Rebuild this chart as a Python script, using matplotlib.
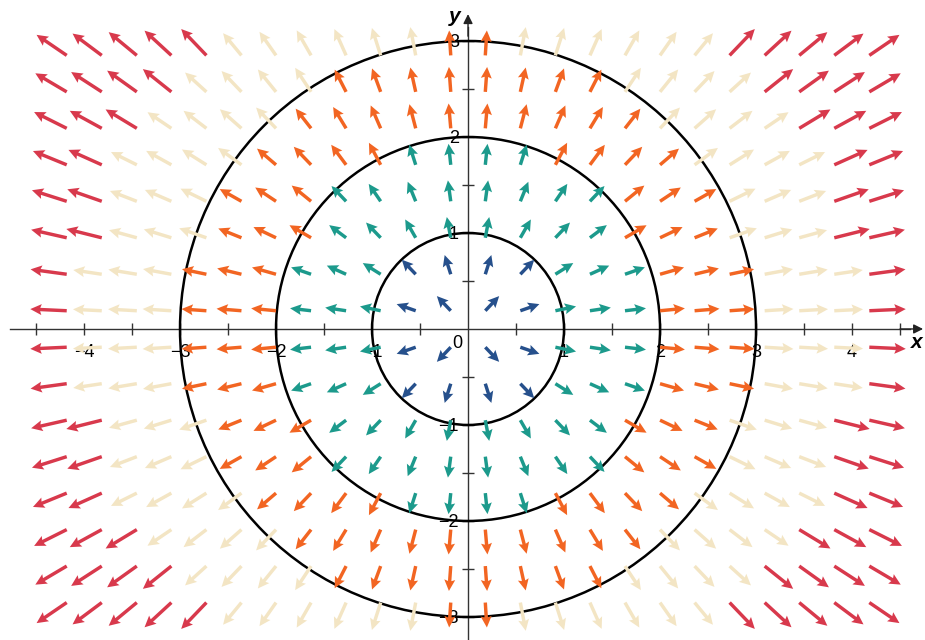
import numpy as np
import matplotlib.pyplot as plt
from matplotlib.patches import Circle

plt.rcParams['font.family'] = ['Liberation Sans', 'DejaVu Sans']

# arrow grid points (tails)
x_pos = [-4.18, -3.815, -3.45, -3.09, -2.725, -2.36, -2.0, -1.635, -1.27, -0.91, -0.545, -0.18,
         0.18, 0.545, 0.91, 1.27, 1.635, 2.0, 2.36, 2.725, 3.09, 3.45, 3.815, 4.18]
y_pos = [-2.85, -2.47, -2.09, -1.71, -1.33, -0.95, -0.57, -0.19,
         0.19, 0.57, 0.95, 1.33, 1.71, 2.09, 2.47, 2.85]

# magnitude bands: |F| < 1, 1-2, 2-3, 3-4, > 4
band_edges = [1, 2, 3, 4]
band_colors = ['#26508c', '#1c9a8c', '#f26522', '#f3e5c4', '#d8394c']
band_lengths = [0.21, 0.22, 0.26, 0.30, 0.38]

circle_radii = [1, 2, 3]

x_ticks = [-4, -3, -2, -1, 1, 2, 3, 4]
x_minor = [-4.5, -3.5, -2.5, -1.5, -0.5, 0.5, 1.5, 2.5, 3.5, 4.5]
y_ticks = [-3, -2, -1, 1, 2, 3]
y_minor = [-2.5, -1.5, -0.5, 0.5, 1.5, 2.5]

# F(x, y) = <x, y>, drawn as unit directions, coloured by magnitude
X, Y = np.meshgrid(x_pos, y_pos)
X = X.ravel()
Y = Y.ravel()
R = np.hypot(X, Y)
r_mid = R + 0.13  # colour is taken near the arrow middle
band = np.digitize(r_mid, band_edges)
L = np.array(band_lengths)[band]
U = X / R * L
V = Y / R * L
cols = [band_colors[b] for b in band]

fig = plt.figure(figsize=(9.25, 6.4), dpi=100)
ax = fig.add_axes([0, 0, 1, 1])
ax.set_xlim(-4.875, 4.76)
ax.set_ylim(-3.24, 3.427)

for r in circle_radii:
    ax.add_patch(Circle((0, 0), r, fill=False, ec='black', lw=1.8, zorder=3))

ax.quiver(X, Y, U, V, color=cols, angles='xy', scale_units='xy', scale=1,
          pivot='tail', width=0.0037, headwidth=3.2, headlength=3.3,
          headaxislength=2.9, zorder=4)

# axes through the origin
for s in ['top', 'right']:
    ax.spines[s].set_visible(False)
ax.spines['bottom'].set_position(('data', 0))
ax.spines['left'].set_position(('data', 0))
ax.spines['bottom'].set_bounds(-4.77, 4.6)
ax.spines['left'].set_bounds(-3.3, 3.15)
for s in ['bottom', 'left']:
    ax.spines[s].set_color('#333333')
    ax.spines[s].set_linewidth(1)
    ax.spines[s].set_zorder(2)

ax.annotate('', xy=(4.74, 0), xytext=(4.5, 0),
            arrowprops=dict(arrowstyle='-|>', mutation_scale=14, color='#222222',
                            lw=1, shrinkA=0, shrinkB=0))
ax.annotate('', xy=(0, 3.28), xytext=(0, 3.05),
            arrowprops=dict(arrowstyle='-|>', mutation_scale=14, color='#222222',
                            lw=1, shrinkA=0, shrinkB=0))

ax.set_xticks(x_ticks)
ax.set_xticklabels(['\u2212' + str(-t) if t < 0 else str(t) for t in x_ticks])
ax.set_xticks(x_minor, minor=True)
ax.set_yticks(y_ticks)
ax.set_yticklabels(['\u2212' + str(-t) if t < 0 else str(t) for t in y_ticks])
ax.set_yticks(y_minor, minor=True)
ax.tick_params(which='both', direction='inout', length=9, width=1, color='#333333')
ax.tick_params(axis='x', labelsize=13, pad=6)
ax.tick_params(axis='y', labelsize=13, pad=2)

ax.text(-0.115, -0.15, '0', fontsize=13, ha='center', va='center')
ax.text(4.67, -0.14, 'x', fontsize=15, fontweight='bold', style='italic',
        ha='center', va='center')
ax.text(-0.14, 3.25, 'y', fontsize=15, fontweight='bold', style='italic',
        ha='center', va='center')

fig.savefig('out.png', dpi=100)
